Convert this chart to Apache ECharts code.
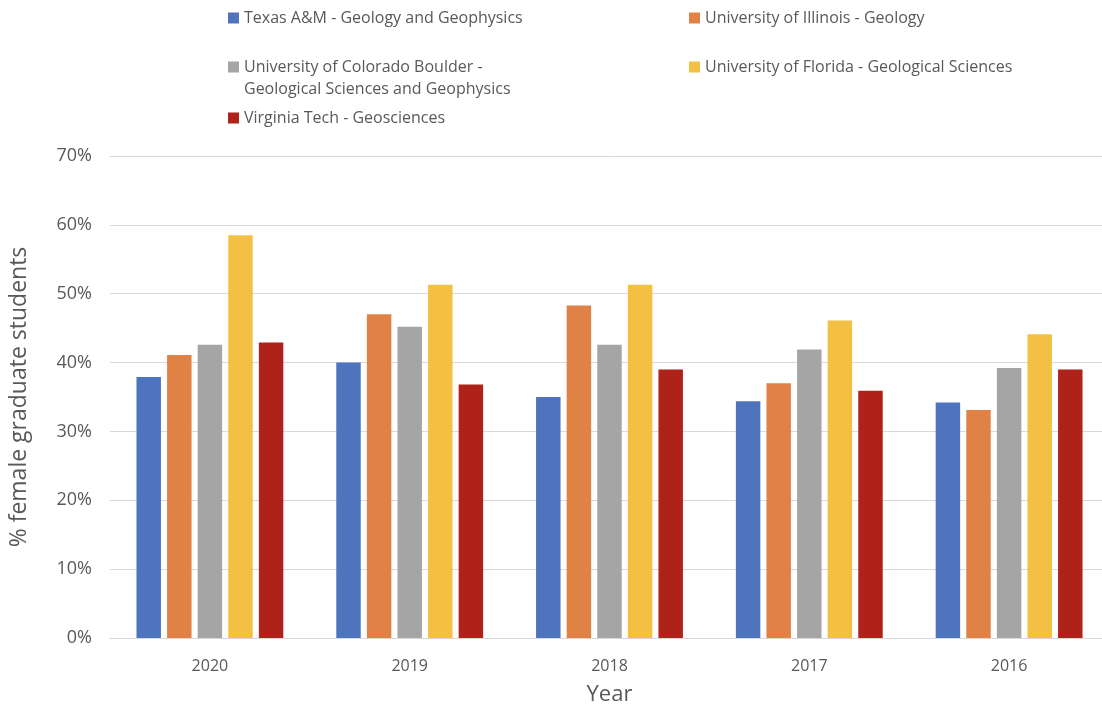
<!DOCTYPE html>
<html>
<head>
<meta charset="utf-8">
<title>Female graduate students by department</title>
<script src="https://cdn.jsdelivr.net/npm/echarts@6/dist/echarts.min.js"></script>
<style>
  html, body { margin: 0; padding: 0; background: #ffffff; overflow: hidden; }
  /* plot runs slightly past the right edge of the page */
  #chart { width: 1109px; height: 711px; }
</style>
</head>
<body>
<div id="chart"></div>
<script>
// Years shown on the category axis (most recent first)
const years = ['2020', '2019', '2018', '2017', '2016'];

// Department names (legend labels)
const texasName = 'Texas A&M - Geology and Geophysics';
const illinoisName = 'University of Illinois - Geology';
const coloradoName = 'University of Colorado Boulder -\nGeological Sciences and Geophysics';
const floridaName = 'University of Florida - Geological Sciences';
const virginiaName = 'Virginia Tech - Geosciences';

// Share of female graduate students, in percent, per year
const texasValues = [37.9, 40.0, 35.0, 34.4, 34.2];
const illinoisValues = [41.1, 47.0, 48.3, 37.0, 33.1];
const coloradoValues = [42.6, 45.2, 42.6, 41.9, 39.2];
const floridaValues = [58.5, 51.3, 51.3, 46.1, 44.1];
const virginiaValues = [42.9, 36.8, 39.0, 35.9, 39.0];

// Value axis ticks
const yTicks = [0, 10, 20, 30, 40, 50, 60, 70];

const textColor = '#595959';
const fontFamily = '"Open Sans", "Noto Sans", sans-serif';

const chart = echarts.init(document.getElementById('chart'), null, { renderer: 'canvas' });

function bar(name, values, color) {
  return {
    name: name,
    type: 'bar',
    data: values,
    barGap: '25%',
    barCategoryGap: '26.5%',
    itemStyle: { color: color },
    emphasis: { disabled: true }
  };
}

function legendAt(name, left, top, formatter) {
  const opt = {
    data: [name],
    left: left,
    top: top,
    orient: 'horizontal',
    icon: 'rect',
    itemWidth: 11,
    itemHeight: 11,
    padding: 0,
    selectedMode: false,
    textStyle: {
      color: textColor,
      fontFamily: fontFamily,
      fontSize: 16,
      lineHeight: 22,
      align: 'left'
    }
  };
  if (formatter) opt.formatter = formatter;
  return opt;
}

chart.setOption({
  animation: false,
  backgroundColor: '#ffffff',
  legend: [
    legendAt(texasName, 228, 7),
    legendAt(illinoisName, 689, 7),
    // two-line entry: a blank leading line keeps the first text line level with the swatch
    legendAt(coloradoName, 228, 34, function (n) { return '\n' + n; }),
    legendAt(floridaName, 689, 56),
    legendAt(virginiaName, 228, 107)
  ],
  grid: {
    left: 109,
    right: 0,
    top: 156,
    bottom: 71,
    containLabel: false
  },
  xAxis: {
    type: 'category',
    data: years,
    name: 'Year',
    nameLocation: 'middle',
    nameGap: 46,
    nameTextStyle: { color: textColor, fontFamily: fontFamily, fontSize: 22 },
    axisLine: { show: true, lineStyle: { color: '#d9d9d9', width: 1 } },
    axisTick: { show: false },
    axisLabel: { color: textColor, fontFamily: fontFamily, fontSize: 16, margin: 20 }
  },
  yAxis: {
    type: 'value',
    min: yTicks[0],
    max: yTicks[yTicks.length - 1],
    interval: 10,
    name: '% female graduate students',
    nameLocation: 'middle',
    nameGap: 79,
    nameTextStyle: { color: textColor, fontFamily: fontFamily, fontSize: 23 },
    axisLine: { show: false },
    axisTick: { show: false },
    splitLine: { lineStyle: { color: '#d9d9d9', width: 1 } },
    axisLabel: {
      color: textColor,
      fontFamily: fontFamily,
      fontSize: 18,
      margin: 18,
      formatter: function (v) { return v + '%'; }
    }
  },
  series: [
    bar(texasName, texasValues, '#4e74be'),
    bar(illinoisName, illinoisValues, '#e08245'),
    bar(coloradoName, coloradoValues, '#a5a5a5'),
    bar(floridaName, floridaValues, '#f4c043'),
    bar(virginiaName, virginiaValues, '#ae2219')
  ]
});
</script>
</body>
</html>
